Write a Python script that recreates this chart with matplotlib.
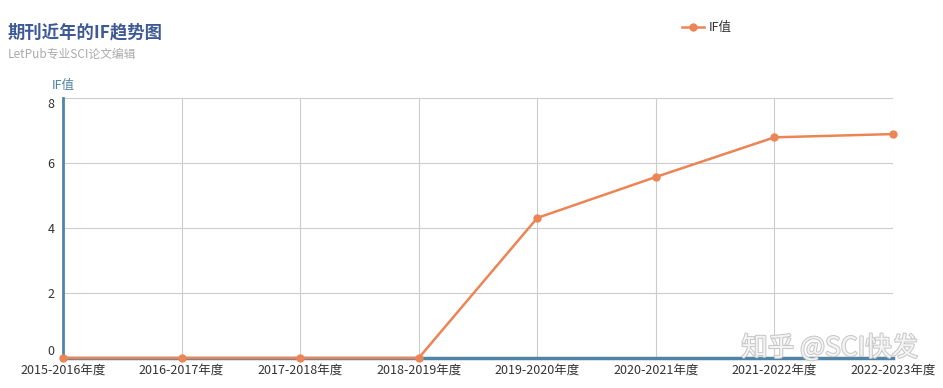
import matplotlib.pyplot as plt
import matplotlib.patheffects as pe

plt.rcParams['font.family'] = ['Noto Sans CJK SC', 'DejaVu Sans']

years = ["2015-2016年度", "2016-2017年度", "2017-2018年度", "2018-2019年度",
         "2019-2020年度", "2020-2021年度", "2021-2022年度", "2022-2023年度"]
if_values = [0, 0, 0, 0, 4.31, 5.57, 6.79, 6.89]
y_ticks = [0, 2, 4, 6, 8]

W, H = 943, 388
fig = plt.figure(figsize=(W / 100, H / 100), dpi=100)
ax = fig.add_axes([63 / W, (H - 358) / H, (893 - 63) / W, 260 / H])

x = list(range(len(years)))
ax.plot(x, if_values, color="#ec8455", lw=1.8, marker="o", ms=5,
        label="IF值", zorder=3, clip_on=False)

ax.set_xlim(0, len(years) - 1)
ax.set_ylim(0, 8)
ax.set_xticks(x)
ax.set_xticklabels(years, fontsize=9, color="#333333")
ax.set_yticks(y_ticks)
ax.set_yticklabels([str(v) for v in y_ticks], fontsize=9, color="#333333")
ax.tick_params(axis="x", length=0, pad=4)
ax.tick_params(axis="y", length=0, pad=6)
ax.grid(True, color="#cccccc", lw=0.8)

# top label sits under its gridline, bottom label above the axis
ylabels = ax.get_yticklabels()
ylabels[0].set_va("bottom")
ylabels[-1].set_va("top")

for s in ["top", "right"]:
    ax.spines[s].set_visible(False)
ax.spines["left"].set_color("#4f84a6")
ax.spines["left"].set_linewidth(2)
ax.spines["bottom"].set_color("#4f84a6")
ax.spines["bottom"].set_linewidth(2.5)

fig.text(8 / W, 1 - 32 / H, "期刊近年的IF趋势图", fontsize=12.5, fontweight="bold",
         color="#3e5a95", va="center")
fig.text(8 / W, 1 - 54 / H, "LetPub专业SCI论文编辑", fontsize=8.5, color="#aaaaaa",
         va="center")
fig.text(52 / W, 1 - 86 / H, "IF值", fontsize=9, color="#4f84a6", va="center")

leg = fig.legend(loc="center", bbox_to_anchor=(707 / W, 1 - 28 / H), frameon=False,
                 fontsize=9, handlelength=1.8, handletextpad=0.4)
for t in leg.get_texts():
    t.set_color("#333333")

fig.text(918 / W, 1 - 348 / H, "知乎 @SCI快发", fontsize=19, color="#f4f4f4",
         ha="right", va="center",
         path_effects=[pe.withStroke(linewidth=1.5, foreground="#c8c8c8")])

fig.savefig("out.png", dpi=100)
